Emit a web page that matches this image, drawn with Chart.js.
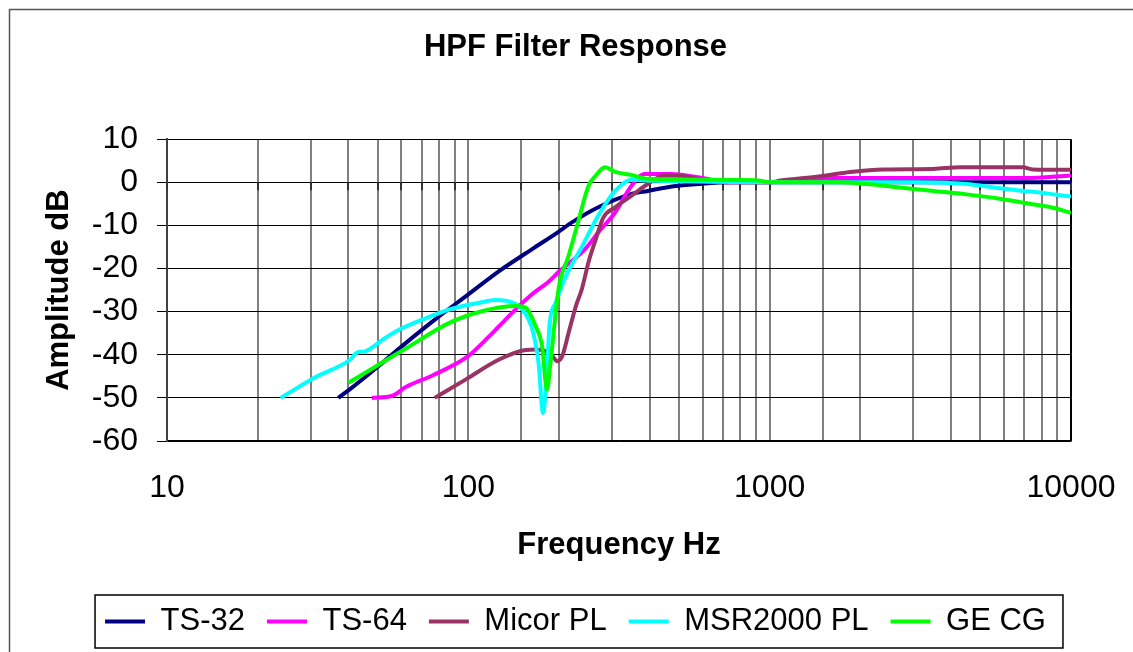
<!DOCTYPE html>
<html>
<head>
<meta charset="utf-8">
<title>HPF Filter Response</title>
<script src="https://cdn.jsdelivr.net/npm/chart.js@4.4.0/dist/chart.umd.min.js"></script>
<style>
  html, body { margin: 0; padding: 0; background: #fff; }
  #wrap { width: 1133px; height: 652px; position: relative; }
</style>
</head>
<body>
<div id="wrap"><canvas id="chart"></canvas></div>
<script>
// values (frequency in Hz, amplitude in dB)
const ts32Freq = [37, 40.6, 49.6, 59.3, 76.3, 100, 126.5, 162.8, 198, 220.7, 270, 348, 394, 480, 577, 750, 1000, 2000, 4000, 7000, 10000];
const ts32Db   = [-50, -47.9, -43, -38.4, -32.2, -26, -20.6, -15.5, -11.6, -9.3, -5.8, -2.7, -2, -0.9, -0.4, 0, 0, 0, 0, 0, 0];

const ts64Freq = [47.8, 56, 62, 76, 99, 117, 126, 143, 162, 185, 200, 244, 270, 307, 348, 385, 471, 577, 743, 1000, 1200, 1600, 3000, 7000, 10000];
const ts64Db   = [-50, -49.5, -47.5, -44.8, -40.5, -35.8, -33.5, -29.6, -26.1, -23, -20.7, -15.5, -11.6, -7, -0.8, 1.9, 1.9, 1.2, 0, 0, 0.4, 1.0, 1.0, 1.0, 1.6];

const micorFreq = [77.3, 98.2, 126.5, 155, 167, 176, 190, 197, 205, 215, 228, 238, 251, 264, 280, 307, 348, 394, 446, 505, 577, 743, 1000, 1087, 1474, 1852, 2387, 3492, 4277, 6924, 7466, 10000];
const micorDb   = [-50, -45.7, -41.1, -38.9, -38.8, -38.9, -40.3, -41.5, -40.3, -35, -28.5, -24.8, -18.3, -13.5, -8.3, -5.8, -3.1, -0.4, 1.5, 1.5, 0.8, 0, 0, 0.4, 1.4, 2.4, 3.0, 3.1, 3.5, 3.5, 3.0, 2.9];

const msrFreq = [23.8, 31.5, 40.6, 42.7, 45.4, 52.2, 59.3, 70.7, 86.5, 111, 123, 140, 151, 163, 171, 177, 182, 186, 195, 210, 238, 270, 307, 348, 394, 600, 1000, 3000, 4500, 5800, 7466, 10000];
const msrDb   = [-50, -45, -41.1, -39.5, -39.2, -36.4, -34.1, -31.8, -29.5, -27.8, -27.3, -27.9, -29.5, -34.1, -41.9, -53.5, -45, -33, -27.9, -22, -15, -7.7, -2, 0.6, 0.4, 0.2, 0, 0, -0.4, -1.4, -2.2, -3.3];

const geFreq = [40, 49.6, 63.9, 86.5, 111, 143.6, 155, 167, 175.7, 182.4, 187.3, 199.6, 215, 232, 250.6, 263.7, 284, 307, 348, 394, 600, 900, 1000, 1700, 2102, 2706, 3075, 3492, 4503, 5800, 7466, 8705, 10000];
const geDb   = [-46.5, -42.6, -38, -32.6, -29.9, -28.7, -29.1, -33.3, -38, -48.1, -41.9, -24.4, -17.1, -8.9, -0.8, 1.4, 3.5, 2.4, 1.7, 0.8, 0.6, 0.5, 0, 0, -0.4, -1.2, -1.6, -2.0, -2.8, -3.8, -5.1, -5.9, -7.1];

const seriesNames = ['TS-32', 'TS-64', 'Micor PL', 'MSR2000 PL', 'GE CG'];
const seriesColors = ['#000080', '#ff00ff', '#993366', '#00ffff', '#00ff00'];
const xTickLabels = [10, 100, 1000, 10000];

const FONT = 'Liberation Sans, Arial, sans-serif';
Chart.defaults.font.family = FONT;
Chart.defaults.color = '#000';

function points(freqs, dbs) {
    return freqs.map((f, i) => ({ x: f, y: dbs[i] }));
}

const allSeries = [
    points(ts32Freq, ts32Db),
    points(ts64Freq, ts64Db),
    points(micorFreq, micorDb),
    points(msrFreq, msrDb),
    points(geFreq, geDb)
];

const datasets = allSeries.map((data, i) => ({
    label: seriesNames[i],
    data: data,
    borderColor: seriesColors[i],
    backgroundColor: seriesColors[i],
    borderWidth: 4,
    pointRadius: 0,
    fill: false,
    cubicInterpolationMode: 'monotone',
    order: seriesNames.length - i   // later series drawn on top, like the original
}));

// the x axis crosses at 0 dB in the original, so it has small tick marks there
const zeroTicksPlugin = {
    id: 'zeroTicks',
    beforeDatasetsDraw(chart) {
        const ctx = chart.ctx;
        const x = chart.scales.x;
        const y0 = chart.scales.y.getPixelForValue(0);
        ctx.save();
        ctx.strokeStyle = '#333';
        ctx.lineWidth = 2;
        ctx.beginPath();
        x.ticks.forEach(t => {
            const px = Math.round(x.getPixelForValue(t.value));
            ctx.moveTo(px, y0);
            ctx.lineTo(px, y0 + 8);
        });
        ctx.stroke();
        ctx.restore();
    }
};

// outer frame and the box round the legend
const framePlugin = {
    id: 'frame',
    afterDraw(chart) {
        const ctx = chart.ctx;
        ctx.save();
        ctx.strokeStyle = '#555';
        ctx.lineWidth = 1.5;
        ctx.strokeRect(9.5, 9.5, chart.width + 40, chart.height + 40);

        const boxes = chart.legend.legendHitBoxes;
        if (boxes && boxes.length) {
            const left = Math.min(...boxes.map(b => b.left)) - 10;
            const right = Math.max(...boxes.map(b => b.left + b.width)) + 17;
            const top = boxes[0].top - 11;
            const bottom = boxes[0].top + boxes[0].height + 11;
            ctx.strokeStyle = '#000';
            ctx.lineWidth = 1.5;
            ctx.strokeRect(left, top, right - left, bottom - top);
        }
        ctx.restore();
    }
};

new Chart(document.getElementById('chart'), {
    type: 'line',
    data: { datasets: datasets },
    options: {
        responsive: true,
        maintainAspectRatio: false,
        animation: false,
        layout: { padding: { left: 27, right: 9, top: 15, bottom: 5 } },
        plugins: {
            title: {
                display: true,
                text: 'HPF Filter Response',
                font: { size: 31, weight: 'bold' },
                color: '#000',
                padding: { top: 14, bottom: 73 }
            },
            legend: {
                position: 'bottom',
                labels: {
                    font: { size: 31 },
                    color: '#000',
                    boxWidth: 40,
                    boxHeight: 4,
                    padding: 22,
                    sort: (a, b) => a.datasetIndex - b.datasetIndex,
                    generateLabels(chart) {
                        const items = Chart.defaults.plugins.legend.labels.generateLabels(chart);
                        items.forEach(it => { it.lineWidth = 0; });
                        return items;
                    }
                }
            },
            tooltip: { enabled: false }
        },
        scales: {
            x: {
                type: 'logarithmic',
                min: 10,
                max: 10000,
                afterFit(scale) { scale.height = 143; },
                grid: {
                    drawTicks: true,
                    tickLength: 28,
                    tickColor: 'rgba(0,0,0,0)',
                    color: ctx => (ctx.tick && ctx.tick.value === 10000) ? '#000' : '#808080',
                    lineWidth: 2
                },
                border: { color: '#000', width: 1.5 },
                ticks: {
                    autoSkip: false,
                    maxRotation: 0,
                    padding: 0,
                    font: { size: 32 },
                    color: '#000',
                    callback: value => xTickLabels.includes(value) ? String(value) : ''
                },
                title: {
                    display: true,
                    text: 'Frequency Hz',
                    font: { size: 31, weight: 'bold' },
                    color: '#000',
                    padding: { top: 0, bottom: 20 }
                }
            },
            y: {
                min: -60,
                max: 10,
                afterFit(scale) { scale.width = 140; },
                grid: { color: '#000', lineWidth: 1, tickLength: 10, tickColor: '#000' },
                border: { color: '#404040', width: 2 },
                ticks: {
                    stepSize: 10,
                    padding: 19,
                    font: { size: 32 },
                    color: '#000'
                },
                title: {
                    display: true,
                    text: 'Amplitude dB',
                    font: { size: 31, weight: 'bold' },
                    color: '#000',
                    padding: { top: 14, bottom: 0 }
                }
            },
            // empty space on the right, so that title and legend centre as in the original
            y2: {
                position: 'right',
                display: true,
                afterFit(scale) { scale.width = 53; },
                grid: { display: false },
                border: { display: false },
                ticks: { display: false }
            }
        }
    },
    plugins: [zeroTicksPlugin, framePlugin]
});
</script>
</body>
</html>
